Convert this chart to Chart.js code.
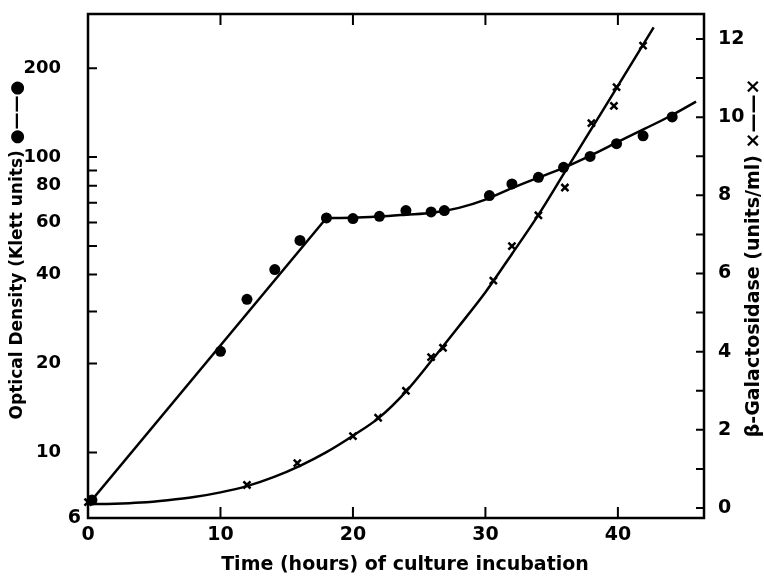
<!DOCTYPE html>
<html>
<head>
<meta charset="utf-8">
<script src="https://cdn.jsdelivr.net/npm/chart.js@4.4.1/dist/chart.umd.min.js"></script>
<style>
  html, body { margin: 0; padding: 0; background: #fff; }
  #wrap { width: 764px; height: 581px; position: relative; }
</style>
</head>
<body>
<div id="wrap"><canvas id="myChart"></canvas></div>
<script>
// Optical density (left, log axis) - filled circles
const timeOD = [0.3, 10, 12, 14.1, 16, 18, 20, 22, 24, 25.9, 26.9, 30.3, 32, 34, 35.9, 37.9, 39.9, 41.9, 44.1];
const opticalDensity = [6.9, 22, 33, 41.6, 52.2, 62.2, 61.9, 63, 65.9, 65.2, 65.9, 74.1, 81.1, 85.4, 92.3, 100.5, 111, 118, 136.7];

// fitted line for optical density
const odLineTime = [0, 18];
const odLineValue = [6.65, 62.2];
const odCurveTime = [18, 20, 22, 24, 26, 28, 30, 32, 34, 36, 38, 40, 42, 44, 45.9];
const odCurveValue = [62.2, 62.3, 62.9, 63.8, 64.8, 67.3, 71.8, 78.5, 85.2, 92.3, 101.5, 112.5, 124.5, 138, 154];

// beta-galactosidase (right, linear axis) - crosses
const timeGal = [0, 12, 15.8, 20, 21.9, 24, 25.9, 26.8, 30.6, 32, 34, 36, 38, 39.7, 39.9, 41.9];
const galactosidase = [0.15, 0.59, 1.15, 1.84, 2.31, 3.0, 3.86, 4.1, 5.82, 6.7, 7.49, 8.2, 9.85, 10.29, 10.77, 11.83];

// fitted curve for beta-galactosidase
const galCurveTime = [0, 2, 4, 6, 8, 10, 12, 14, 16, 18, 20, 22, 24, 26, 28, 30, 32, 34, 36, 38, 40, 42.7];
const galCurveValue = [0.1, 0.11, 0.14, 0.2, 0.28, 0.4, 0.56, 0.79, 1.08, 1.43, 1.85, 2.32, 2.98, 3.8, 4.65, 5.52, 6.5, 7.5, 8.6, 9.7, 10.8, 12.3];

// ticks
const xTicks = [0, 10, 20, 30, 40];
const odTickMarks = [10, 20, 30, 40, 50, 60, 70, 80, 90, 100, 200];
const odTickLabels = [10, 20, 40, 60, 80, 100, 200];
const odBottomLabel = 6;
const galTickMarks = [0, 1, 2, 3, 4, 5, 6, 7, 8, 9, 10, 11, 12];
const galTickLabels = [0, 2, 4, 6, 8, 10, 12];

const fontFamily = "'DejaVu Sans', sans-serif";

function pts(xs, ys) {
  return xs.map((x, i) => ({ x: x, y: ys[i] }));
}

// frame, inward tick marks and the axis titles
const frameAndTicks = {
  id: 'frameAndTicks',
  afterDraw(chart) {
    const ctx = chart.ctx;
    const a = chart.chartArea;
    const sx = chart.scales.x, sy = chart.scales.y, sy2 = chart.scales.y2;
    ctx.save();
    ctx.strokeStyle = '#000';
    ctx.lineWidth = 2.5;
    ctx.strokeRect(a.left, a.top, a.right - a.left, a.bottom - a.top);

    ctx.lineWidth = 2;
    ctx.beginPath();
    xTicks.forEach(v => {
      const px = sx.getPixelForValue(v);
      ctx.moveTo(px, a.bottom); ctx.lineTo(px, a.bottom - 11);
      if (v > 0) { ctx.moveTo(px, a.top); ctx.lineTo(px, a.top + 11); }
    });
    odTickMarks.forEach(v => {
      const py = sy.getPixelForValue(v);
      ctx.moveTo(a.left, py); ctx.lineTo(a.left + 9, py);
    });
    galTickMarks.forEach(v => {
      const py = sy2.getPixelForValue(v);
      ctx.moveTo(a.right, py); ctx.lineTo(a.right - 8, py);
    });
    ctx.stroke();

    ctx.fillStyle = '#000';
    ctx.textBaseline = 'middle';

    // bottom label of the log axis sits right against the axis
    ctx.font = 'bold 19px ' + fontFamily;
    ctx.textAlign = 'right';
    ctx.fillText(String(odBottomLabel), a.left - 7, sy.getPixelForValue(odBottomLabel));

    ctx.textAlign = 'center';
    ctx.font = 'bold 19px ' + fontFamily;
    ctx.fillText('Time (hours) of culture incubation', 405, 565);

    ctx.font = 'bold 17px ' + fontFamily;
    ctx.save();
    ctx.translate(18, 250);
    ctx.rotate(-Math.PI / 2);
    ctx.fillText('Optical Density (Klett units) \u25CF\u2014\u2014\u25CF', 0, 0);
    ctx.restore();

    ctx.font = 'bold 19px ' + fontFamily;
    ctx.save();
    ctx.translate(754, 258);
    ctx.rotate(-Math.PI / 2);
    ctx.fillText('\u03B2-Galactosidase (units/ml) \u00D7\u2014\u2014\u00D7', 0, 0);
    ctx.restore();

    ctx.restore();
  }
};

const ctx = document.getElementById('myChart').getContext('2d');
const myChart = new Chart(ctx, {
  type: 'line',
  data: {
    datasets: [
      {
        label: 'Optical Density',
        data: pts(timeOD, opticalDensity),
        yAxisID: 'y',
        showLine: false,
        pointStyle: 'circle',
        pointRadius: 5.5,
        pointBackgroundColor: '#000',
        pointBorderWidth: 0,
        clip: false
      },
      {
        label: 'OD fit 1',
        data: pts(odLineTime, odLineValue),
        yAxisID: 'y',
        borderColor: '#000',
        borderWidth: 2.5,
        pointRadius: 0,
        fill: false
      },
      {
        label: 'OD fit 2',
        data: pts(odCurveTime, odCurveValue),
        yAxisID: 'y',
        borderColor: '#000',
        borderWidth: 2.5,
        pointRadius: 0,
        cubicInterpolationMode: 'monotone',
        fill: false
      },
      {
        label: 'beta-Galactosidase',
        data: pts(timeGal, galactosidase),
        yAxisID: 'y2',
        showLine: false,
        pointStyle: 'crossRot',
        pointRadius: 5,
        pointBorderWidth: 2.5,
        pointBorderColor: '#000',
        clip: false
      },
      {
        label: 'Gal fit',
        data: pts(galCurveTime, galCurveValue),
        yAxisID: 'y2',
        borderColor: '#000',
        borderWidth: 2.5,
        pointRadius: 0,
        cubicInterpolationMode: 'monotone',
        fill: false
      }
    ]
  },
  options: {
    responsive: true,
    maintainAspectRatio: false,
    animation: false,
    devicePixelRatio: 1,
    layout: { padding: { top: 14, left: 0, right: 0, bottom: 0 } },
    plugins: {
      legend: { display: false },
      tooltip: { enabled: false }
    },
    scales: {
      x: {
        type: 'linear',
        position: 'bottom',
        min: 0,
        max: 46.5,
        grid: { display: false },
        border: { display: false },
        afterBuildTicks: s => { s.ticks = xTicks.map(v => ({ value: v })); },
        afterFit: s => { s.height = 63; s.paddingLeft = 0; s.paddingRight = 0; },
        ticks: {
          padding: -2,
          color: '#000',
          font: { family: fontFamily, size: 19, weight: 'bold' }
        }
      },
      y: {
        type: 'logarithmic',
        position: 'left',
        min: 6,
        max: 305,
        grid: { display: false },
        border: { display: false },
        afterBuildTicks: s => { s.ticks = odTickLabels.map(v => ({ value: v })); },
        afterFit: s => { s.width = 88; s.paddingTop = 0; s.paddingBottom = 0; },
        ticks: {
          padding: 19,
          color: '#000',
          font: { family: fontFamily, size: 18, weight: 'bold' },
          callback: v => String(v)
        }
      },
      y2: {
        type: 'linear',
        position: 'right',
        min: -0.255,
        max: 12.64,
        grid: { display: false },
        border: { display: false },
        afterBuildTicks: s => { s.ticks = galTickLabels.map(v => ({ value: v })); },
        afterFit: s => { s.width = 60; s.paddingTop = 0; s.paddingBottom = 0; },
        ticks: {
          padding: 6,
          color: '#000',
          font: { family: fontFamily, size: 19, weight: 'bold' },
          callback: v => String(v)
        }
      }
    }
  },
  plugins: [frameAndTicks]
});
</script>
</body>
</html>
